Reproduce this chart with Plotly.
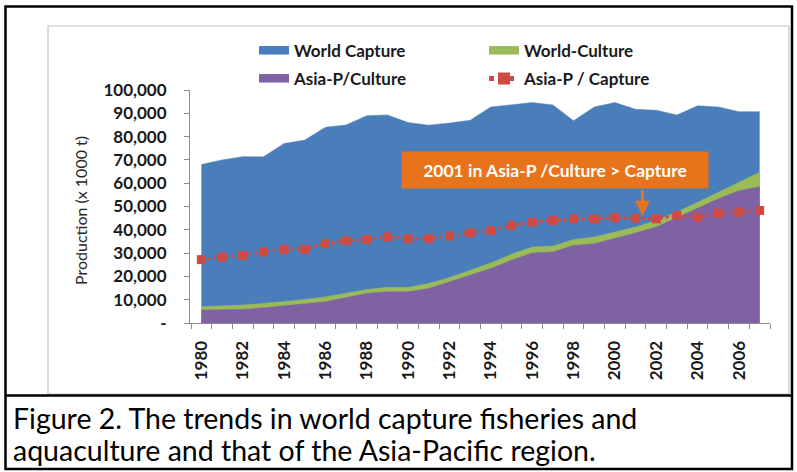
import plotly.graph_objects as go

# Production, thousand tonnes
years = list(range(1980, 2008))
world_capture = [68000, 70000, 71400, 71300, 77000, 78500, 84000, 85000, 89000, 89300,
                 86000, 84900, 85800, 87000, 92700, 93600, 94600, 93600, 86800, 92700,
                 94600, 91700, 91300, 89300, 93200, 92700, 90700, 90700]
world_culture = [7000, 7300, 7700, 8400, 9100, 10100, 11200, 12800, 14400, 15300,
                 15300, 17000, 19500, 22600, 25800, 29500, 32600, 33000, 35800, 36900,
                 39000, 41200, 44000, 47600, 51800, 56100, 60400, 64700]
asia_culture = [5600, 5700, 5800, 6500, 7300, 8200, 9100, 10900, 12700, 13400,
                13400, 14800, 17700, 20500, 23400, 26900, 30000, 30500, 33300, 34000,
                36200, 38600, 41200, 45200, 49000, 53300, 56800, 58500]
asia_capture = [27200, 28300, 29000, 30500, 31600, 31600, 34000, 35300, 35800, 36900,
                36200, 36200, 37300, 38700, 39700, 41900, 43300, 44000, 44700, 44700,
                45200, 45000, 44700, 46200, 45400, 47100, 47600, 48300]

y_ticks = list(range(0, 100001, 10000))
y_tick_text = ["-"] + [f"{v:,}" for v in y_ticks[1:]]
x_label_years = list(range(1980, 2007, 2))

BLUE = "#4a7ebb"
GREEN = "#9bbb59"
PURPLE = "#7f62a4"
RED = "#cf4a43"
ORANGE = "#e8731a"
AXIS = "#8c8c8c"
FONT = "Lato"
INK = "#1a1a1a"

W, H = 797, 472
L, R, T, B = 190, 27, 90, 149
PW, PH = W - L - R, H - T - B


def px(x):
    return (x - L) / PW


def py(y):
    return (H - B - y) / PH


fig = go.Figure()
fig.add_trace(go.Scatter(x=years, y=world_capture, name="World Capture", mode="lines",
                         fill="tozeroy", fillcolor=BLUE, line=dict(color=BLUE, width=0.5),
                         legend="legend"))
fig.add_trace(go.Scatter(x=years, y=world_culture, name="World-Culture", mode="lines",
                         fill="tozeroy", fillcolor=GREEN, line=dict(color=GREEN, width=0.5),
                         legend="legend"))
fig.add_trace(go.Scatter(x=years, y=asia_culture, name="Asia-P/Culture", mode="lines",
                         fill="tozeroy", fillcolor=PURPLE, line=dict(color=PURPLE, width=0.5),
                         legend="legend2"))
fig.add_trace(go.Scatter(x=years, y=asia_capture, name="Asia-P / Capture", mode="lines+markers",
                         line=dict(color=RED, width=3, dash="dot"),
                         marker=dict(symbol="square", size=9, color=RED),
                         legend="legend2"))

legend_common = dict(orientation="h", xanchor="left", yanchor="middle",
                     entrywidth=185, entrywidthmode="pixels",
                     font=dict(family=FONT, size=17, color=INK, weight="bold"),
                     bgcolor="rgba(0,0,0,0)", itemsizing="constant")

fig.update_layout(
    width=W, height=H,
    margin=dict(l=L, r=R, t=T, b=B),
    paper_bgcolor="white", plot_bgcolor="white",
    showlegend=True,
    legend=dict(x=px(254), y=py(51), **legend_common),
    legend2=dict(x=px(254), y=py(79), **legend_common),
    xaxis=dict(range=[1979.45, 2007.5], showgrid=False, zeroline=False,
               showline=True, linecolor=AXIS, linewidth=1,
               tickmode="array", tickvals=x_label_years,
               ticktext=[str(y) for y in x_label_years],
               ticks="", tickangle=-90, ticklabelstandoff=10,
               tickfont=dict(family=FONT, size=17, color=INK, weight="bold"),
               minor=dict(tick0=1979.5, dtick=1, ticks="outside", ticklen=5,
                          tickcolor=AXIS, showgrid=False)),
    yaxis=dict(range=[0, 100000], showgrid=False, zeroline=False,
               showline=True, linecolor=AXIS, linewidth=1,
               tickmode="array", tickvals=y_ticks, ticktext=y_tick_text,
               ticks="outside", ticklen=5, tickcolor=AXIS, ticklabelstandoff=14,
               tickfont=dict(family=FONT, size=17, color=INK, weight="bold")),
)

# Frame around the figure and its caption, plus the chart-area border
shapes = [
    dict(type="rect", xref="paper", yref="paper", x0=px(48), x1=px(789), y0=py(394), y1=py(26),
         line=dict(color="#c4c4c4", width=1.2), layer="below"),
    dict(type="rect", xref="paper", yref="paper", x0=px(5.5), x1=px(792), y0=py(469), y1=py(6.5),
         line=dict(color="black", width=2.5)),
    dict(type="line", xref="paper", yref="paper", x0=px(5.5), x1=px(792), y0=py(395.5), y1=py(395.5),
         line=dict(color="black", width=2.5)),
]
fig.update_layout(shapes=shapes)

annotations = [
    dict(text="Production (x 1000 t)", xref="paper", yref="paper", x=px(80), y=py(211),
         textangle=-90, showarrow=False, xanchor="center", yanchor="middle",
         font=dict(family=FONT, size=16, color="#262626")),
    dict(text="2001 in Asia-P /Culture > Capture", xref="paper", yref="paper",
         x=px(555), y=py(170), xanchor="center", yanchor="middle", showarrow=False,
         bgcolor=ORANGE, width=300, height=30, borderpad=3,
         font=dict(family=FONT, size=17.5, color="white", weight="bold")),
    dict(text="", x=2001.33, y=46000, xref="x", yref="y", showarrow=True,
         ax=0, ay=-27, axref="pixel", ayref="pixel",
         arrowhead=2, arrowsize=1, arrowwidth=3, arrowcolor=ORANGE),
    dict(text="Figure 2. The trends in world capture fisheries and", xref="paper", yref="paper",
         x=px(11), y=py(418), xanchor="left", yanchor="middle", showarrow=False,
         font=dict(family=FONT, size=28.5, color="black")),
    dict(text="aquaculture and that of the Asia-Pacific region.", xref="paper", yref="paper",
         x=px(11), y=py(450), xanchor="left", yanchor="middle", showarrow=False,
         font=dict(family=FONT, size=28.5, color="black")),
]
fig.update_layout(annotations=annotations)

fig.write_html("out.html")
